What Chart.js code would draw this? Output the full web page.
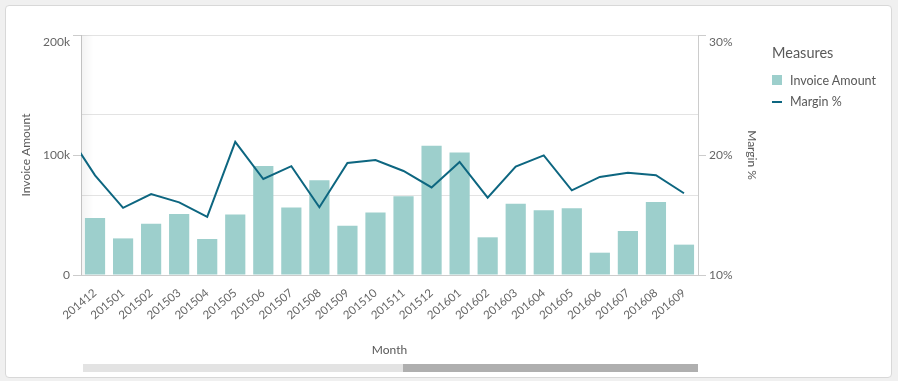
<!DOCTYPE html>
<html>
<head>
<meta charset="utf-8">
<script src="https://cdn.jsdelivr.net/npm/chart.js@4"></script>
<style>
    body { margin: 0; background: #f0f0f0; font-family: Lato, sans-serif; }
    .card { position: absolute; left: 5px; top: 5px; width: 885px; height: 371px; background: #fff; border: 1px solid #d8d8d8; border-radius: 4px; }
    #wrap { position: absolute; left: 0; top: 0; width: 898px; height: 381px; }
    .legend { position: absolute; left: 772px; top: 44px; color: #595959; }
    .legend .title { font-size: 14.5px; margin-bottom: 9px; }
    .legend .item { font-size: 12.5px; height: 21px; line-height: 21px; position: relative; padding-left: 18px; }
    .legend .swatch { position: absolute; left: 0; }
    .legend .bar { top: 5px; width: 10px; height: 10px; background: #9dcfcc; }
    .legend .line { top: 10px; width: 10px; height: 2px; background: #0d6680; }
    .scroll-track { position: absolute; left: 83px; top: 364px; width: 615px; height: 8px; background: #e3e3e3; }
    .scroll-thumb { position: absolute; left: 403px; top: 364px; width: 295px; height: 8px; background: #afafaf; }
</style>
</head>
<body>
<div class="card"></div>
<div id="wrap"><canvas id="comboChart"></canvas></div>
<div class="legend">
    <div class="title">Measures</div>
    <div class="item"><span class="swatch bar"></span>Invoice Amount</div>
    <div class="item"><span class="swatch line"></span>Margin %</div>
</div>
<div class="scroll-track"></div>
<div class="scroll-thumb"></div>
<script>
// months shown in the scrolled window
const months = ['201412', '201501', '201502', '201503', '201504', '201505', '201506', '201507',
    '201508', '201509', '201510', '201511', '201512', '201601', '201602', '201603',
    '201604', '201605', '201606', '201607', '201608', '201609'];

const invoiceAmount = [47500, 30500, 42800, 50800, 30000, 50500, 90800, 56300,
    78900, 41000, 52000, 65600, 107800, 102000, 31400, 59400,
    53900, 55600, 18600, 36700, 60800, 25300];

const marginPct = [18.3, 15.6, 16.75, 16.05, 14.85, 21.1, 18.0, 19.07,
    15.65, 19.33, 19.58, 18.67, 17.3, 19.42, 16.45, 19.03,
    19.97, 17.06, 18.17, 18.53, 18.31, 16.81];

// month just left of the visible window (201411), only its line segment shows
const prevMarginPct = 21.9;

const amountTicks = [0, 100000, 200000];
const amountMax = 200000;
const gridSteps = 3;
const marginTicks = [10, 20, 30];

function fmtAmount(v) {
    return v === 0 ? '0' : (v / 1000) + 'k';
}

// top label sits just under its tick, like the original
function topDown(label, isTop) {
    return isTop ? ['', label] : label;
}

// faint shadow at the left edge of the plot (scrolled content)
const scrollShade = {
    id: 'scrollShade',
    beforeDatasetsDraw(chart) {
        const a = chart.chartArea;
        const ctx = chart.ctx;
        const g = ctx.createLinearGradient(a.left, 0, a.left + 12, 0);
        g.addColorStop(0, 'rgba(0,0,0,0.05)');
        g.addColorStop(1, 'rgba(0,0,0,0)');
        ctx.save();
        ctx.fillStyle = g;
        ctx.fillRect(a.left, a.top, 12, a.bottom - a.top);
        ctx.restore();
    }
};

const ctx = document.getElementById('comboChart').getContext('2d');
new Chart(ctx, {
    data: {
        datasets: [
            {
                type: 'line',
                label: 'Margin %',
                data: [{ x: -1, y: prevMarginPct }].concat(marginPct.map((v, i) => ({ x: i, y: v }))),
                yAxisID: 'y1',
                borderColor: '#0d6680',
                borderWidth: 2,
                pointRadius: 0,
                tension: 0,
                clip: 0
            },
            {
                type: 'bar',
                label: 'Invoice Amount',
                data: invoiceAmount.map((v, i) => ({ x: i, y: v })),
                yAxisID: 'y',
                backgroundColor: '#9dcfcc',
                barPercentage: 0.72,
                categoryPercentage: 1
            }
        ]
    },
    options: {
        responsive: true,
        maintainAspectRatio: false,
        animation: false,
        layout: { padding: { left: 15, top: 35, right: 135, bottom: 20 } },
        plugins: {
            legend: { display: false },
            tooltip: { enabled: false }
        },
        scales: {
            x: {
                type: 'linear',
                bounds: 'data',
                offset: false,
                min: -0.5,
                max: months.length - 0.5,
                afterBuildTicks: (scale) => {
                    scale.ticks = months.map((m, i) => ({ value: i }));
                },
                afterFit: (scale) => { scale.height = 86; },
                grid: { display: false, offset: false },
                border: { color: '#cccccc' },
                ticks: {
                    autoSkip: false,
                    minRotation: 40,
                    maxRotation: 40,
                    color: '#666666',
                    font: { family: 'Lato', size: 11.5 },
                    callback: (v) => months[v] || ''
                },
                title: {
                    display: true,
                    text: 'Month',
                    color: '#595959',
                    font: { family: 'Lato', size: 12 }
                }
            },
            y: {
                position: 'left',
                bounds: 'data',
                min: 0,
                max: amountMax,
                afterBuildTicks: (scale) => {
                    const vals = [];
                    for (let i = 0; i <= gridSteps; i++) vals.push(amountMax * i / gridSteps);
                    amountTicks.forEach(v => { if (!vals.includes(v)) vals.push(v); });
                    vals.sort((a, b) => a - b);
                    scale.ticks = vals.map(v => ({ value: v }));
                },
                afterFit: (scale) => { scale.width = 66; },
                grid: {
                    color: (c) => {
                        const v = c.tick ? c.tick.value : 0;
                        return amountTicks.includes(v) && v !== amountMax ? 'rgba(0,0,0,0)' : '#e3e3e3';
                    },
                    tickColor: (c) => {
                        const v = c.tick ? c.tick.value : 0;
                        return amountTicks.includes(v) ? '#cccccc' : 'rgba(0,0,0,0)';
                    },
                    tickLength: 8
                },
                border: { color: '#cccccc' },
                ticks: {
                    color: '#666666',
                    font: { family: 'Lato', size: 12 },
                    callback: (v) => amountTicks.includes(v) ? topDown(fmtAmount(v), v === amountMax) : ''
                },
                title: {
                    display: true,
                    text: 'Invoice Amount',
                    color: '#595959',
                    font: { family: 'Lato', size: 12 }
                }
            },
            y1: {
                position: 'right',
                bounds: 'data',
                min: marginTicks[0],
                max: marginTicks[marginTicks.length - 1],
                afterBuildTicks: (scale) => {
                    scale.ticks = marginTicks.map(v => ({ value: v }));
                },
                afterFit: (scale) => { scale.width = 65; },
                grid: { drawOnChartArea: false, tickColor: '#cccccc', tickLength: 8 },
                border: { color: '#cccccc' },
                ticks: {
                    color: '#666666',
                    font: { family: 'Lato', size: 12 },
                    callback: (v) => topDown(v + '%', v === marginTicks[marginTicks.length - 1])
                },
                title: {
                    display: true,
                    text: 'Margin %',
                    color: '#595959',
                    font: { family: 'Lato', size: 12 }
                }
            }
        }
    },
    plugins: [scrollShade]
});
</script>
</body>
</html>
